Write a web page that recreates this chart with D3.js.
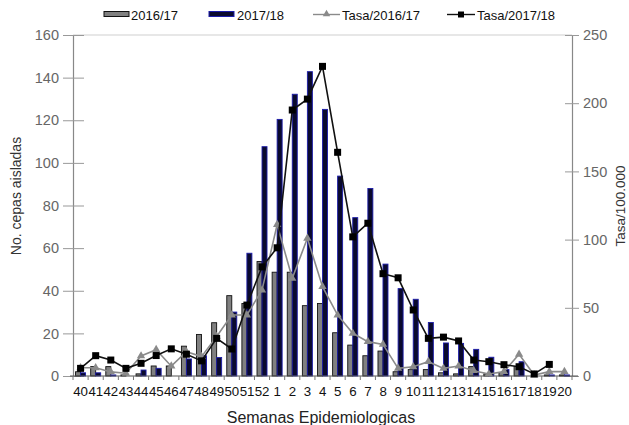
<!DOCTYPE html>
<html>
<head>
<meta charset="utf-8">
<script src="https://cdn.jsdelivr.net/npm/d3@7"></script>
<style>
  html, body { margin: 0; padding: 0; background: #fff; }
  svg { display: block; font-family: "Liberation Sans", Arial, Helvetica, sans-serif; }
</style>
</head>
<body>
<svg id="chart" width="629" height="425"></svg>
<script>
const weeks = ["40","41","42","43","44","45","46","47","48","49","50","51","52",
  "1","2","3","4","5","6","7","8","9","10","11","12","13","14","15","16","17","18","19","20"];
const cepas1617 = [2,4.4,4.4,0.5,1,4.7,4.7,14,19.5,25,37.7,34,53.7,
  48.7,48.7,33,34,20.3,14.5,9.5,11.7,2,3,3,1.5,1,4.4,1,1.5,4.5,0,0.5,0.5];
const cepas1718 = [1.5,1.5,0.5,0,2.8,3.6,0,8,9.5,8.7,30,57.6,107.6,
  120.4,132.2,142.8,125.1,93.8,74.3,88,52.5,41,36,25.1,15.5,15.3,12.5,8.8,3,6.7,0,0.5,0.5];
const tasa1617 = [6,6,3,2,14.7,19.3,7.2,17.8,14.2,29,44.7,44.7,63,
  111,71.6,101,65.5,44.7,31.3,25.2,23.2,5.6,6.8,10.5,5.6,7.3,3.9,1.5,3.2,15.9,0.7,3.2,3.2];
const tasa1718 = [5.6,14.9,11.7,5.6,9.3,15,19.9,16,11.1,27.6,19.8,52,80,
  94,195,203,227,164,102,112,75,72,48.4,27.6,28.5,25.7,11.7,10.5,8.3,6.8,1.5,8.5,null];
const leftTicks = [0,20,40,60,80,100,120,140,160];
const rightTicks = [0,50,100,150,200,250];
const seriesNames = ["2016/17","2017/18","Tasa/2016/17","Tasa/2017/18"];

const svg = d3.select("#chart");
const L = 73, R = 572, T = 35, B = 376;

const x = d3.scaleBand().domain(weeks).range([L, R]).padding(0);
const yL = d3.scaleLinear().domain([0,160]).range([B, T]);
const yR = d3.scaleLinear().domain([0,250]).range([B, T]);

// top border
svg.append("line").attr("x1", L).attr("x2", R).attr("y1", T).attr("y2", T)
  .attr("stroke", "#cfcfcf").attr("stroke-width", 1.2);

// left axis
const gL = svg.append("g").attr("transform", `translate(${L},0)`)
  .call(d3.axisLeft(yL).tickValues(leftTicks).tickSize(10).tickPadding(4));
gL.select(".domain").attr("stroke", "#888").attr("stroke-width", 1.2);
gL.selectAll(".tick line").attr("x1", -10).attr("x2", 11).attr("stroke", "#999");
gL.selectAll(".tick text").attr("font-size", 14.5).attr("fill", "#666")
  .attr("font-family", "Liberation Sans, Arial, sans-serif");

// right axis
const gR = svg.append("g").attr("transform", `translate(${R},0)`)
  .call(d3.axisRight(yR).tickValues(rightTicks).tickSize(7).tickPadding(4));
gR.select(".domain").attr("stroke", "#888").attr("stroke-width", 1.2);
gR.selectAll(".tick line").attr("x1", -7).attr("x2", 7).attr("stroke", "#999");
gR.selectAll(".tick text").attr("font-size", 14.5).attr("fill", "#666")
  .attr("font-family", "Liberation Sans, Arial, sans-serif");

// bars
const bw = 5;
const g1 = svg.append("g");
g1.selectAll("rect.b1").data(weeks).join("rect")
  .attr("x", (d) => x(d) + x.bandwidth()/2 - bw)
  .attr("y", (d, i) => yL(cepas1617[i]))
  .attr("width", bw)
  .attr("height", (d, i) => B - yL(cepas1617[i]))
  .attr("fill", "#808080").attr("stroke", "#111").attr("stroke-width", 0.9);
g1.selectAll("rect.b2").data(weeks).join("rect")
  .attr("x", (d) => x(d) + x.bandwidth()/2)
  .attr("y", (d, i) => yL(cepas1718[i]))
  .attr("width", bw)
  .attr("height", (d, i) => B - yL(cepas1718[i]))
  .attr("fill", "#0a0a2e").attr("stroke", "#1c1caa").attr("stroke-width", 0.9);

// bottom axis
const gB = svg.append("g").attr("transform", `translate(0,${B})`)
  .call(d3.axisBottom(x).tickSize(0).tickPadding(11));
gB.select(".domain").remove();
svg.append("line").attr("x1", L - 3).attr("x2", R + 6).attr("y1", B).attr("y2", B)
  .attr("stroke", "#555").attr("stroke-width", 1.2);
gB.selectAll(".tick text").attr("font-size", 13.3).attr("fill", "#111")
  .attr("letter-spacing", "-0.2")
  .attr("font-family", "Liberation Sans, Arial, sans-serif");
// boundary ticks
const bounds = weeks.map((d) => x(d)).concat([x(weeks[weeks.length-1]) + x.step()]);
svg.append("g").selectAll("line").data(bounds).join("line")
  .attr("x1", (d) => d).attr("x2", (d) => d)
  .attr("y1", B).attr("y2", B + 4)
  .attr("stroke", "#777").attr("stroke-width", 1);

// lines
const cx = (d, i) => x(weeks[i]) + x.bandwidth()/2;
const line1617 = d3.line().defined((d) => d != null).x(cx).y((d) => yR(d));
svg.append("path").datum(tasa1617).attr("d", line1617)
  .attr("fill", "none").attr("stroke", "#8a8a8a").attr("stroke-width", 1.6);
const tri = d3.symbol().type(d3.symbolTriangle).size(30);
svg.append("g").selectAll("path").data(tasa1617.map((v, i) => ({v, i})).filter((o) => o.v != null))
  .join("path")
  .attr("d", tri)
  .attr("transform", (o) => `translate(${x(weeks[o.i]) + x.bandwidth()/2},${yR(o.v)})`)
  .attr("fill", "#8a8a8a");

const line1718 = d3.line().defined((d) => d != null).x(cx).y((d) => yR(d));
svg.append("path").datum(tasa1718).attr("d", line1718)
  .attr("fill", "none").attr("stroke", "#111").attr("stroke-width", 1.6);
svg.append("g").selectAll("rect").data(tasa1718.map((v, i) => ({v, i})).filter((o) => o.v != null))
  .join("rect")
  .attr("x", (o) => x(weeks[o.i]) + x.bandwidth()/2 - 3.5)
  .attr("y", (o) => yR(o.v) - 3.5)
  .attr("width", 7).attr("height", 7).attr("fill", "#000");

// axis titles
svg.append("text").attr("transform", "translate(21,196) rotate(-90)")
  .attr("text-anchor", "middle").attr("font-size", 14).attr("fill", "#333")
  .text("No. cepas aisladas");
svg.append("text").attr("transform", "translate(625,206) rotate(-90)")
  .attr("text-anchor", "middle").attr("font-size", 13.5).attr("fill", "#333")
  .text("Tasa/100.000");
svg.append("text").attr("x", 321).attr("y", 423)
  .attr("text-anchor", "middle").attr("font-size", 16).attr("fill", "#222")
  .text("Semanas Epidemiologicas");

// legend
const lg = svg.append("g").attr("font-size", 13).attr("fill", "#111");
lg.append("rect").attr("x", 104).attr("y", 11.5).attr("width", 25).attr("height", 5)
  .attr("fill", "#808080").attr("stroke", "#111").attr("stroke-width", 1);
lg.append("text").attr("x", 131).attr("y", 20).text(seriesNames[0]);
lg.append("rect").attr("x", 209).attr("y", 11.5).attr("width", 25).attr("height", 5)
  .attr("fill", "#0a0a2e").attr("stroke", "#1c1caa").attr("stroke-width", 1);
lg.append("text").attr("x", 237).attr("y", 20).text(seriesNames[1]);
lg.append("line").attr("x1", 313).attr("x2", 340).attr("y1", 14.5).attr("y2", 14.5)
  .attr("stroke", "#8a8a8a").attr("stroke-width", 1.4);
lg.append("path").attr("d", d3.symbol().type(d3.symbolTriangle).size(24))
  .attr("transform", "translate(326.5,14)").attr("fill", "#8a8a8a");
lg.append("text").attr("x", 342).attr("y", 20).text(seriesNames[2]);
lg.append("line").attr("x1", 447).attr("x2", 475).attr("y1", 14.5).attr("y2", 14.5)
  .attr("stroke", "#111").attr("stroke-width", 1.4);
lg.append("rect").attr("x", 458).attr("y", 11.5).attr("width", 6).attr("height", 6).attr("fill", "#000");
lg.append("text").attr("x", 477).attr("y", 20).text(seriesNames[3]);
</script>
</body>
</html>
